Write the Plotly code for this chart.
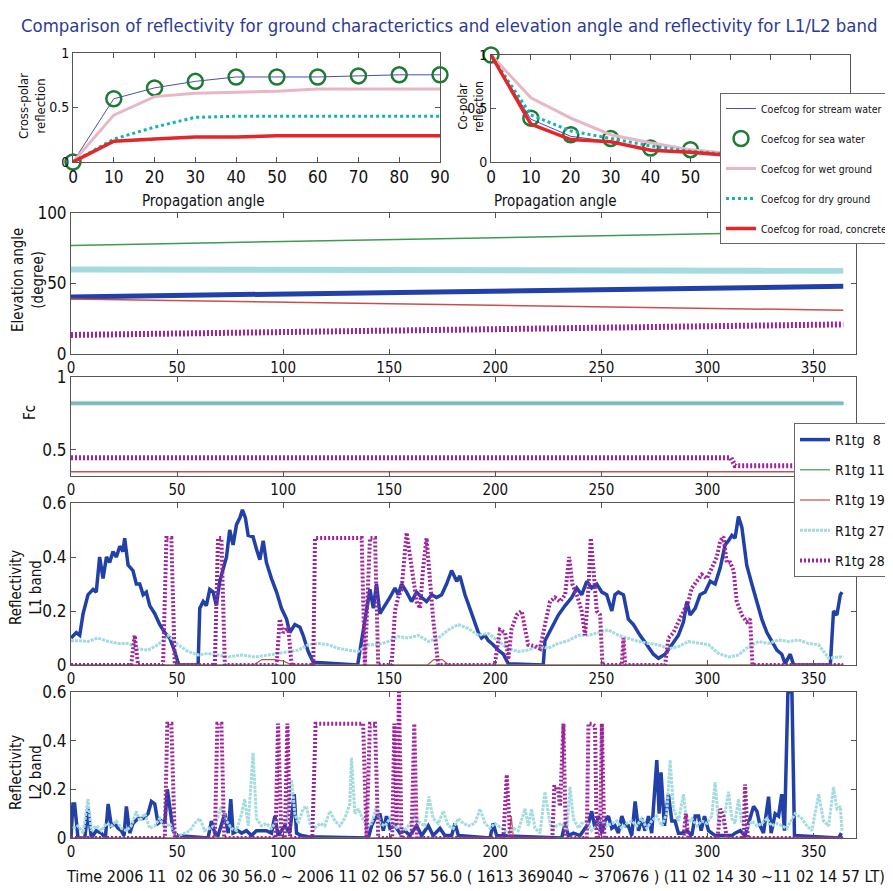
import plotly.graph_objects as go

W, H = 893, 891

# ---------------- data: top panels (propagation angle) ----------------
angles = [0, 10, 20, 30, 40, 50, 60, 70, 80, 90]
cross_stream = [0, 0.58, 0.68, 0.74, 0.78, 0.78, 0.78, 0.79, 0.80, 0.80]
cross_sea = [0, 0.58, 0.68, 0.74, 0.78, 0.78, 0.78, 0.79, 0.80, 0.80]
cross_wet = [0, 0.43, 0.60, 0.63, 0.64, 0.65, 0.67, 0.67, 0.67, 0.67]
cross_dry = [0, 0.21, 0.32, 0.41, 0.42, 0.42, 0.42, 0.42, 0.42, 0.42]
cross_road = [0, 0.19, 0.21, 0.23, 0.23, 0.24, 0.24, 0.24, 0.24, 0.24]

co_stream = [1, 0.40, 0.24, 0.19, 0.12, 0.09, 0.06, 0.04, 0.03, 0.02]
co_sea = [1, 0.41, 0.255, 0.22, 0.13, 0.115, 0.07, 0.05, 0.04, 0.03]
co_wet = [1, 0.60, 0.41, 0.255, 0.18, 0.115, 0.08, 0.05, 0.04, 0.03]
co_dry = [1, 0.44, 0.29, 0.22, 0.15, 0.10, 0.07, 0.05, 0.04, 0.03]
co_road = [1, 0.355, 0.21, 0.19, 0.11, 0.09, 0.06, 0.04, 0.03, 0.02]

angle_labels = ["0", "10", "20", "30", "40", "50", "60", "70", "80", "90"]
co_angle_labels = ["0", "10", "20", "30", "40", "50", "", "", "", ""]  # 60-90 hidden behind legend

coef_names = ["Coefcog for stream water", "Coefcog for sea water", "Coefcog for wet ground",
              "Coefcog for dry ground", "Coefcog for road, concrete"]
sat_names = ["R1tg  8", "R1tg 11", "R1tg 19", "R1tg 27", "R1tg 28"]

# ---------------- data: elevation angle ----------------
elev_time = [0, 182, 364]
elev_r8 = [40.5, 44, 48]
elev_r11 = [77, 82, 87]
elev_r19 = [39, 35, 31]
elev_r27 = [60, 60, 59]
elev_r28 = [13.5, 17, 21]

# ---------------- data: Fc ----------------
fc_time = [0, 311, 313, 364]
fc_r8 = [0.82, 0.82, 0.82, 0.82]
fc_r11 = [0.82, 0.82, 0.82, 0.82]
fc_r19 = [0.35, 0.35, 0.35, 0.35]
fc_r27 = [0.82, 0.82, 0.82, 0.82]
fc_r28 = [0.445, 0.445, 0.39, 0.39]

# ---------------- data: reflectivity L1 (time, value) ----------------
l1_r8 = [(0,0.10),(2.5,0.12),(4.1,0.11),(5.7,0.19),(8,0.26),(10.4,0.28),(11.9,0.27),(13.5,0.40),(15.1,0.32),
         (16.7,0.40),(18.2,0.38),(19.8,0.42),(21.4,0.40),(23,0.44),(24.5,0.42),(25.3,0.47),(26.9,0.37),(29.2,0.35),
         (30.8,0.30),(32.4,0.30),(34,0.26),(35.5,0.27),(37.1,0.22),(39.5,0.19),(41.8,0.15),(44.2,0.12),(46.5,0.10),
         (48.9,0.05),(50.8,0),(59.9,0),(60.7,0.21),(62.3,0.235),(63.8,0.22),(65.4,0.28),(67,0.27),(68.5,0.22),
         (70.1,0.31),(71.7,0.36),(73.3,0.40),(74.8,0.50),(76.4,0.445),(78,0.52),(79.6,0.545),(80.8,0.575),
         (82.2,0.545),(83.5,0.48),(85.8,0.475),(87.4,0.43),(89,0.39),(90.6,0.46),(92.1,0.38),(94.5,0.32),
         (96.9,0.27),(99.2,0.21),(101.6,0.17),(103.1,0.12),(105.5,0.15),(107.9,0.14),(109.4,0.11),(111.8,0.05),
         (114.2,0.01),(135.1,0),(137,0.09),(139.3,0.19),(140.9,0.28),(142.5,0.21),(144,0.30),(145.6,0.19),
         (148,0.22),(150.3,0.25),(152.7,0.285),(154.2,0.26),(155.8,0.30),(158.2,0.27),(160.5,0.235),(162.9,0.27),
         (165.3,0.25),(167.6,0.235),(170,0.26),(172.3,0.25),(174.7,0.26),(177,0.30),(179.4,0.35),(181.8,0.31),
         (183.3,0.33),(185.7,0.26),(188,0.21),(190.4,0.15),(192,0.12),(193.5,0.10),(195.1,0.11),(196.7,0.09),
         (199,0.075),(201.4,0.055),(203.8,0.04),(206.1,0.005),(222.6,0),(223.4,0.09),(226.6,0.135),(229.7,0.185),
         (232.9,0.22),(236,0.25),(238.4,0.285),(240.7,0.26),(243.1,0.31),(245.4,0.285),(247.8,0.30),(250.2,0.27),
         (252.5,0.26),(254.9,0.20),(256.4,0.26),(258,0.27),(260.4,0.26),(262.7,0.17),(265.1,0.15),(268.2,0.11),
         (271.4,0.075),(274.5,0.04),(276.9,0.025),(280,0.04),(283.2,0.075),(286.3,0.11),(288.7,0.16),(290.3,0.235),
         (291.8,0.185),(294.2,0.21),(296.5,0.26),(298.9,0.27),(301.3,0.31),(303.6,0.30),(306,0.36),(308.3,0.445),
         (309.9,0.46),(311.5,0.48),(313,0.47),(314.6,0.55),(316.2,0.51),(318.5,0.37),(320.9,0.30),(323.3,0.235),
         (325.6,0.17),(328,0.12),(330.3,0.09),(332.7,0.055),(335,0.04),(336.6,0.005),(339,0.04),(340.6,0),
         (357.9,0),(359.4,0.20),(361,0.185),(362.6,0.26),(363.4,0.27)]
l1_r11 = [(0,0),(364,0)]
l1_r19 = [(0,0),(86,0),(90,0.02),(96,0.02),(100,0.015),(104,0),(168,0),(171,0.02),(175,0.02),(178,0),(364,0)]
l1_r27 = [(0,0.09),(3.3,0.09),(8,0.087),(12.7,0.10),(17.5,0.087),(22.2,0.08),(26.9,0.08),(31.6,0.06),(36.3,0.055),
          (41,0.075),(45.8,0.11),(50.5,0.075),(55.2,0.05),(59.9,0.037),(64.6,0.043),(69.3,0.037),(74.1,0.03),
          (80.4,0.037),(86.6,0.03),(93,0.037),(97.6,0.043),(102.4,0.05),(107.1,0.055),(111.8,0.075),(116.5,0.08),
          (121.2,0.075),(126,0.062),(130.7,0.055),(135.4,0.05),(140.1,0.075),(144.8,0.075),(149.5,0.087),
          (154.2,0.105),(159,0.10),(163.7,0.11),(168.4,0.087),(173.1,0.10),(177.8,0.13),(182.5,0.15),(187.3,0.135),
          (192,0.11),(196.7,0.117),(201.4,0.087),(206.1,0.06),(210.8,0.05),(215.5,0.055),(220.3,0.07),(225,0.062),
          (229.7,0.08),(234.4,0.09),(239.2,0.11),(243.9,0.11),(248.6,0.12),(253.3,0.13),(258,0.11),(262.7,0.10),
          (267.5,0.087),(272.2,0.08),(276.9,0.075),(281.6,0.06),(286.3,0.068),(291,0.087),(295.8,0.08),
          (300.5,0.075),(305.2,0.043),(309.9,0.03),(314.6,0.037),(319.3,0.068),(324.1,0.087),(328.8,0.08),
          (333.5,0.093),(338.2,0.087),(342.9,0.093),(347.6,0.08),(352.4,0.075),(357.1,0.025),(361.8,0.03),(364,0.03)]
l1_r28 = [(0,0),(28.4,0),(30,0.11),(31.6,0),(43.4,0),(45,0.47),(47.3,0.47),(48.9,0),(67.8,0),(69.3,0.47),(70.9,0.47),
          (72.5,0),(96.9,0),(98.4,0.17),(100,0.12),(102.4,0.14),(104,0),(114.2,0),(115,0.47),(137,0.47),(138.5,0),
          (140.9,0.47),(143.3,0.47),(144.8,0),(151.1,0),(152.7,0.2),(154.2,0.25),(155.8,0.28),(158.2,0.49),
          (160.5,0.36),(162.9,0.235),(164.5,0.21),(166,0.36),(167.6,0.47),(169.2,0.32),(170.7,0.17),(173.1,0),
          (199.7,0),(202.2,0.13),(204.6,0.12),(206.1,0.02),(207.7,0.135),(210.1,0.185),(212.4,0.20),(214,0.135),
          (215.5,0.075),(218.7,0.07),(221.1,0.06),(223.4,0.15),(225.8,0.235),(228.1,0.25),(230.5,0.235),(232.9,0.26),
          (234.8,0.40),(236.3,0.30),(238.4,0.26),(240.7,0.20),(242.3,0.11),(243.9,0.285),(245,0.47),(246.2,0.36),
          (247.8,0.20),(249.4,0.185),(250.5,0),(259.6,0),(260.4,0.10),(261.2,0),(280,0),(281.6,0.10),(284,0.12),
          (286.3,0.16),(288.7,0.20),(291,0.235),(292.6,0.285),(295,0.31),(297.3,0.335),(299.7,0.32),(302,0.36),
          (304.4,0.40),(306,0.46),(307.5,0.475),(309.1,0.38),(310.7,0.38),(312.3,0.35),(313.8,0.235),(316.2,0.185),
          (318.5,0.16),(320.1,0.17),(321.2,0),(364,0)]

# ---------------- data: reflectivity L2 (time, value) ----------------
l2_r8 = [(0,0),(0.9,0.14),(1.7,0.14),(3.3,0),(6.5,0),(8,0.12),(9.6,0),(11.9,0.03),(14.3,0.02),(16.2,0),(17.5,0.14),
         (19,0.05),(20.6,0.06),(22.2,0.04),(23.7,0.03),(25,0.01),(26.1,0.13),(27.7,0.02),(29.2,0.06),(31.6,0.08),
         (34,0.08),(36.3,0.10),(37.9,0.15),(39.5,0.14),(41,0.06),(42.6,0.07),(44.2,0.06),(45.4,0.20),(47,0.10),
         (48.1,0.03),(49.7,0.01),(64.6,0),(66.2,0.07),(67.8,0.02),(69.3,0.01),(70.9,0.05),(72.5,0.10),(74.1,0.02),
         (75.3,0.16),(76.4,0.02),(78.8,0.03),(80.4,0.02),(82.7,0.03),(85.1,0.01),(87.4,0.03),(89.8,0.03),(92.1,0.03),
         (94.5,0.02),(96.1,0.09),(97.6,0.01),(100.8,0.05),(103.1,0.02),(105.2,0.18),(106.3,0.02),(108.6,0.01),
         (111.8,0.005),(140.1,0),(141.7,0.05),(143.3,0.08),(145.6,0.10),(147.2,0.03),(148.7,0.09),(150.3,0.04),
         (152.7,0.05),(155,0.02),(157.4,0.03),(159.7,0.01),(162.9,0.05),(165.3,0.01),(168.4,0.05),(170.7,0.01),
         (173.9,0.04),(176.2,0.01),(179.4,0.01),(181,0.06),(182.6,0.01),(197.5,0),(199,0.06),(200.6,0.01),
         (231.3,0),(232.9,0.06),(234.4,0.01),(236.8,0.02),(239.9,0.01),(241.5,0.03),(243.9,0.06),(245.4,0.11),
         (247,0.04),(248.6,0.09),(250.2,0.02),(251.7,0.07),(253.3,0.09),(254.9,0.04),(256.4,0.05),(258,0.02),
         (259.6,0.09),(261.2,0.05),(262.7,0.05),(264.3,0.01),(265.9,0.15),(267.5,0.03),(269,0.08),(270.6,0.03),
         (272.2,0.09),(273.7,0.02),(276.1,0.32),(277.2,0.10),(278.1,0.27),(279.7,0.05),(281.6,0.18),(283.2,0.07),
         (284.7,0.07),(286.3,0.02),(287.9,0.02),(290.3,0.03),(292.6,0.01),(294.2,0.09),(295.8,0.09),(297,0.03),
         (298.6,0.09),(300.5,0.03),(303.6,0.01),(306.8,0.01),(311.5,0.01),(313,0.02),(315.4,0.03),(317.7,0.01),
         (321.7,0.13),(323.3,0.11),(324.8,0.05),(326.4,0.02),(328.8,0.17),(330,0.02),(331.9,0.10),(333.5,0.09),
         (335,0.18),(336.3,0.03),(337.9,0.6),(339.8,0.6),(341,0.01),(361.8,0),(363.1,0.02)]
l2_r11 = [(0,0),(364,0)]
l2_r19 = [(0,0),(206.5,0),(207.5,0.09),(208.5,0),(364,0)]
l2_r27 = [(0.9,0.04),(3.3,0.05),(5.7,0.02),(8,0.16),(9.6,0.03),(11.9,0.05),(14.3,0.03),(16.7,0.06),(19,0.05),
          (21.4,0.07),(23.7,0.04),(26.1,0.03),(28.4,0.05),(30.8,0.11),(32.4,0.07),(34.8,0.10),(37.1,0.04),(39.5,0.05),
          (41.8,0.08),(44.2,0.04),(46.5,0.06),(48.9,0.02),(51.3,0.01),(53.6,0.02),(56,0.03),(58.3,0.06),(60.7,0.08),
          (63,0.03),(65.4,0.04),(67.8,0.05),(70.9,0.13),(73.3,0.07),(75.6,0.04),(78,0.03),(80.4,0.10),(81.9,0.16),
          (83.5,0.05),(85.8,0.35),(87.4,0.08),(89.8,0.05),(92.1,0.06),(94.5,0.04),(96.9,0.07),(99.2,0.08),
          (101.6,0.06),(104,0.24),(105.5,0.10),(107.1,0.06),(109.4,0.12),(111,0.13),(112.6,0.06),(114.9,0.04),
          (117.3,0.06),(119.6,0.05),(122,0.11),(124.4,0.07),(126.7,0.05),(128.3,0.07),(129.9,0.10),(131.4,0.14),
          (132.2,0.33),(133.8,0.10),(135.4,0.12),(136.9,0.09),(139.3,0.05),(141.7,0.06),(144,0.13),(145.6,0.06),
          (148,0.05),(150.3,0.08),(152.7,0.04),(155,0.05),(157.4,0.03),(159.7,0.06),(162.1,0.09),(164.5,0.06),
          (166.8,0.05),(168.7,0.17),(170.7,0.08),(173.1,0.06),(175.5,0.11),(177.8,0.05),(180.2,0.04),(182.5,0.08),
          (184.9,0.06),(187.3,0.05),(190.4,0.06),(192.8,0.12),(195.1,0.06),(197.5,0.04),(199.8,0.06),(203,0.04),
          (206.1,0.02),(208.5,0.04),(210.8,0.03),(214,0.12),(215.6,0.05),(217.1,0.12),(218.7,0.04),(221.1,0.02),
          (223.4,0.19),(225,0.10),(226.6,0.03),(228.9,0.05),(231.3,0.06),(233.7,0.03),(235.2,0.21),(236.8,0.08),
          (239.2,0.04),(240.7,0.06),(243.1,0.07),(245.4,0.03),(247.8,0.05),(250.2,0.08),(252.5,0.05),(254.9,0.06),
          (257.3,0.07),(259.6,0.04),(262,0.06),(264.3,0.07),(266.7,0.05),(269,0.08),(271.4,0.04),(273.7,0.07),
          (276.1,0.09),(278.5,0.05),(280.8,0.10),(282.4,0.32),(284,0.12),(286.3,0.07),(288.7,0.18),(290.3,0.06),
          (292.6,0.08),(295,0.05),(297.3,0.07),(299.7,0.06),(302,0.09),(303.6,0.23),(305.2,0.07),(307.5,0.06),
          (309.9,0.19),(311.5,0.08),(313,0.06),(314.6,0.16),(316.2,0.06),(318.5,0.04),(320.9,0.07),(323.3,0.05),
          (325.6,0.06),(328,0.08),(330.3,0.05),(332.7,0.06),(335,0.05),(337.4,0.04),(341.3,0.10),(344.5,0.08),
          (346.8,0.05),(349.2,0.03),(352.4,0.18),(354.7,0.07),(357.1,0.05),(359.4,0.21),(361,0.12),(362.6,0.13),
          (363.4,0.03)]
l2_r28 = [(0,0),(44.2,0),(45.4,0.47),(47.3,0.47),(48.9,0),(67.8,0),(69,0.47),(70.9,0.47),(72.2,0),(96.4,0),
          (97.6,0.47),(99.2,0),(100.8,0),(102,0.47),(103.3,0),(113.7,0),(115.3,0.47),(137.7,0.47),(139.3,0),
          (140.9,0.47),(143.3,0.47),(144.8,0),(151.4,0),(152.4,0.47),(153.5,0.05),(154.6,0.6),(155.8,0),(160.5,0),
          (161.8,0.47),(163,0),(203.8,0),(205.4,0.26),(207,0),(226.9,0),(227.8,0.21),(229.4,0.21),(230.5,0.13),
          (232.1,0.47),(233.2,0.02),(233.7,0),(243.1,0),(243.9,0.47),(245.4,0.47),(247,0.46),(247.8,0),(249.4,0),
          (250.2,0.47),(251.4,0),(288.7,0),(289.8,0.10),(291,0),(304.8,0),(306,0.12),(307.5,0.09),(309.1,0),
          (317,0),(317.7,0.22),(319,0),(364,0)]

time_ticks = [0, 50, 100, 150, 200, 250, 300, 350]

# ---------------- styling ----------------
FONT = "DejaVu Sans Condensed, Liberation Sans Narrow, Arial Narrow, Liberation Sans, Arial, sans-serif"
COEF_COLORS = ["#4b4fae", "#1e7b36", "#e9b7c3", "#17b3b3", "#e3262a"]
SAT_COLORS = ["#2140a8", "#3f9a50", "#c8504a", "#a3dbde", "#a1239c"]


def xd(a, b):
    return [a / W, b / W]


def yd(top, bot):
    return [1 - bot / H, 1 - top / H]


def unzip(pairs):
    return [p[0] for p in pairs], [p[1] for p in pairs]


fig = go.Figure()


def add_coef(ax, ay, series, show):
    for i, (name, vals) in enumerate(zip(coef_names, series)):
        common = dict(x=angles, y=vals, name=name, xaxis=ax, yaxis=ay, showlegend=show,
                      legend="legend", legendgroup="c%d" % i, cliponaxis=False)
        if i == 0:
            fig.add_trace(go.Scatter(mode="lines", line=dict(color=COEF_COLORS[0], width=1), **common))
        elif i == 1:
            fig.add_trace(go.Scatter(mode="markers", marker=dict(symbol="circle-open", size=15,
                                     color=COEF_COLORS[1], line=dict(width=2.5, color=COEF_COLORS[1])), **common))
        elif i == 2:
            fig.add_trace(go.Scatter(mode="lines", line=dict(color=COEF_COLORS[2], width=3), **common))
        elif i == 3:
            fig.add_trace(go.Scatter(mode="lines", line=dict(color=COEF_COLORS[3], width=3, dash="dot"), **common))
        else:
            fig.add_trace(go.Scatter(mode="lines", line=dict(color=COEF_COLORS[4], width=3.5), **common))


add_coef("x", "y", [cross_stream, cross_sea, cross_wet, cross_dry, cross_road], True)
add_coef("x2", "y2", [co_stream, co_sea, co_wet, co_dry, co_road], False)

sat_line = [dict(width=5), dict(width=1.5), dict(width=1.5), dict(width=6), dict(width=6, dash="2px,2px")]
for i, vals in enumerate([elev_r8, elev_r11, elev_r19, elev_r27, elev_r28]):
    ln = dict(sat_line[i]); ln["color"] = SAT_COLORS[i]
    fig.add_trace(go.Scatter(x=elev_time, y=vals, mode="lines", line=ln, xaxis="x3", yaxis="y3",
                             showlegend=False, name=sat_names[i]))

fc_line = [dict(width=3), dict(width=1.5), dict(width=1.5), dict(width=5), dict(width=5, dash="2px,2px")]
for i, vals in enumerate([fc_r8, fc_r11, fc_r19, fc_r27, fc_r28]):
    ln = dict(fc_line[i]); ln["color"] = SAT_COLORS[i]
    fig.add_trace(go.Scatter(x=fc_time, y=vals, mode="lines", line=ln, xaxis="x4", yaxis="y4",
                             showlegend=False, name=sat_names[i], opacity=0.65 if i == 3 else 1))

refl_line = [dict(width=3.5), dict(width=1.2), dict(width=1.2), dict(width=3, dash="3px,1px"),
             dict(width=4, dash="2px,2px")]
for i, pairs in enumerate([l1_r8, l1_r11, l1_r19, l1_r27, l1_r28]):
    xs, ys = unzip(pairs)
    ln = dict(refl_line[i]); ln["color"] = SAT_COLORS[i]
    fig.add_trace(go.Scatter(x=xs, y=ys, mode="lines", line=ln, xaxis="x5", yaxis="y5",
                             showlegend=True, legend="legend2", legendgroup="s%d" % i, name=sat_names[i]))
for i, pairs in enumerate([l2_r8, l2_r11, l2_r19, l2_r27, l2_r28]):
    xs, ys = unzip(pairs)
    ln = dict(refl_line[i]); ln["color"] = SAT_COLORS[i]
    fig.add_trace(go.Scatter(x=xs, y=ys, mode="lines", line=ln, xaxis="x6", yaxis="y6",
                             showlegend=False, name=sat_names[i]))

axis_common = dict(showgrid=False, zeroline=False, showline=True, linecolor="#555", linewidth=1,
                   mirror="ticks", ticks="inside", ticklen=5, tickcolor="#555", automargin=False,
                   tickfont=dict(family=FONT, size=15, color="#111"))


def ax(**kw):
    d = dict(axis_common)
    d.update(kw)
    return d


big = dict(family=FONT, size=17, color="#111")
mid = dict(family=FONT, size=14, color="#111")

fig.update_layout(
    width=W, height=H, template="none", plot_bgcolor="white", paper_bgcolor="white",
    margin=dict(l=0, r=0, t=0, b=0, autoexpand=False),
    xaxis=ax(domain=xd(65, 432), range=[0, 90], anchor="y", tickvals=angles, ticktext=angle_labels,
             tickfont=big),
    yaxis=ax(domain=yd(45, 154), range=[0, 1], anchor="x", tickvals=[0, 0.5, 1], tickfont=mid),
    xaxis2=ax(domain=xd(483, 842), range=[0, 90], anchor="y2", tickvals=angles, ticktext=co_angle_labels,
              tickfont=big),
    yaxis2=ax(domain=yd(47, 154), range=[0, 1], anchor="x2", tickvals=[0, 0.5, 1], tickfont=mid),
    xaxis3=ax(domain=xd(63, 848), range=[0, 370], anchor="y3", tickvals=time_ticks),
    yaxis3=ax(domain=yd(205, 346), range=[0, 100], anchor="x3", tickvals=[0, 50, 100], tickfont=big),
    xaxis4=ax(domain=xd(63, 848), range=[0, 370], anchor="y4", tickvals=time_ticks),
    yaxis4=ax(domain=yd(369, 468), range=[0.32, 1], anchor="x4", tickvals=[0.5, 1], tickfont=big),
    xaxis5=ax(domain=xd(63, 848), range=[0, 370], anchor="y5", tickvals=time_ticks),
    yaxis5=ax(domain=yd(495, 657), range=[0, 0.6], anchor="x5", tickvals=[0, 0.2, 0.4, 0.6],
              ticktext=["0", "0.2", "0.4", "0.6"], tickfont=big),
    xaxis6=ax(domain=xd(63, 848), range=[0, 370], anchor="y6", tickvals=time_ticks),
    yaxis6=ax(domain=yd(684, 830), range=[0, 0.6], anchor="x6", tickvals=[0, 0.2, 0.4, 0.6],
              ticktext=["0", "0.2", "0.4", "0.6"], tickfont=big),
    legend=dict(x=712 / W, y=1 - 85 / H, xanchor="left", yanchor="top", bgcolor="white",
                bordercolor="#666", borderwidth=1, font=dict(family=FONT, size=10.5, color="#111"),
                traceorder="grouped", tracegroupgap=11),
    legend2=dict(x=786 / W, y=1 - 415 / H, xanchor="left", yanchor="top", bgcolor="white",
                 bordercolor="#666", borderwidth=1, font=dict(family=FONT, size=14, color="#111"),
                 traceorder="grouped", tracegroupgap=9),
    showlegend=True,
)

title = "Comparison of reflectivity for ground characterictics and elevation angle and reflectivity for L1/L2 band"
time_label = ("Time 2006 11  02 06 30 56.0 ~ 2006 11 02 06 57 56.0 ( 1613 369040 ~ 370676 ) "
              "(11 02 14 30 ~11 02 14 57 LT)")
lab = dict(family=FONT, size=15, color="#111")
ann = [
    dict(text=title, x=441 / W, y=1 - 17 / H, font=dict(family=FONT, size=18.4, color="#2d3a96")),
    dict(text="Propagation angle", x=195 / W, y=1 - 193 / H, font=dict(family=FONT, size=15, color="#111")),
    dict(text="Propagation angle", x=547 / W, y=1 - 193 / H, font=dict(family=FONT, size=15, color="#111")),
    dict(text="Cross-polar<br>reflection", x=24 / W, y=1 - 98 / H, textangle=-90,
         font=dict(family=FONT, size=13, color="#111")),
    dict(text="Co-polar<br>reflection", x=463 / W, y=1 - 98 / H, textangle=-90,
         font=dict(family=FONT, size=12, color="#111")),
    dict(text="Elevation angle<br>(degree)", x=20 / W, y=1 - 272 / H, textangle=-90, font=lab),
    dict(text="Fc", x=22 / W, y=1 - 405 / H, textangle=-90, font=lab),
    dict(text="Reflectivity<br>L1 band", x=18 / W, y=1 - 580 / H, textangle=-90, font=lab),
    dict(text="Reflectivity<br>L2 band", x=18 / W, y=1 - 765 / H, textangle=-90, font=lab),
    dict(text=time_label, x=467 / W, y=1 - 868 / H, font=dict(family=FONT, size=16, color="#111")),
]
for a in ann:
    a.update(xref="paper", yref="paper", showarrow=False, xanchor="center", yanchor="middle")
fig.update_layout(annotations=ann)

fig.write_html("out.html")
